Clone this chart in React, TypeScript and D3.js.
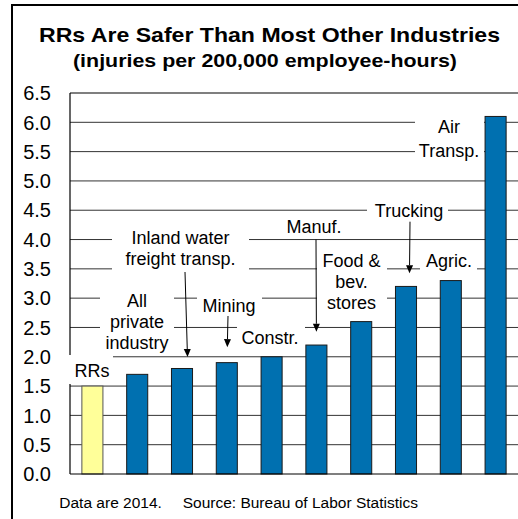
import React from "react";
import * as d3 from "d3";

// Injury rates by industry (injuries per 200,000 employee-hours), 2014
const categories = [
  "RRs",
  "All private industry",
  "Inland water freight transp.",
  "Mining",
  "Constr.",
  "Manuf.",
  "Food & bev. stores",
  "Trucking",
  "Agric.",
  "Air Transp.",
];
const injuryRates = [1.5, 1.7, 1.8, 1.9, 2.0, 2.2, 2.6, 3.2, 3.3, 6.1];
const yTicks = [0, 0.5, 1, 1.5, 2, 2.5, 3, 3.5, 4, 4.5, 5, 5.5, 6, 6.5];
const highlighted = "RRs";

const title = "RRs Are Safer Than Most Other Industries";
const subtitle = "(injuries per 200,000 employee-hours)";
const dataNote = "Data are 2014.";
const sourceNote = "Source: Bureau of Labor Statistics";

const W = 518;
const H = 519;
const plot = { left: 70, right: 518, top: 93, bottom: 474 };
const FONT = "'Liberation Sans', Arial, Helvetica, sans-serif";

// Callout labels: text lines, white knock-out box, optional pointer to a bar
type Callout = {
  category: string;
  lines: string[];
  cx: number;
  baselines: number[];
  box: [number, number, number, number]; // x0, x1, y0, y1
  arrow?: { x0: number; y0: number; dx: number; gap: number };
};

const callouts: Callout[] = [
  { category: "RRs", lines: ["RRs"], cx: 92, baselines: [377], box: [69, 113, 355, 384] },
  {
    category: "All private industry",
    lines: ["All", "private", "industry"],
    cx: 137,
    baselines: [307, 328, 349],
    box: [100, 174, 288, 354],
  },
  {
    category: "Inland water freight transp.",
    lines: ["Inland water", "freight transp."],
    cx: 180.5,
    baselines: [244, 265],
    box: [112, 249, 228, 274],
    arrow: { x0: 185, y0: 272, dx: 5.5, gap: 11.5 },
  },
  {
    category: "Mining",
    lines: ["Mining"],
    cx: 229,
    baselines: [312],
    box: [197, 262, 293, 318],
    arrow: { x0: 228, y0: 316, dx: 0.5, gap: 15.5 },
  },
  { category: "Constr.", lines: ["Constr."], cx: 270, baselines: [344], box: [237, 305, 322, 352] },
  {
    category: "Manuf.",
    lines: ["Manuf."],
    cx: 314,
    baselines: [233],
    box: [283, 345, 214, 237],
    arrow: { x0: 316, y0: 239.6, dx: 0, gap: 13.3 },
  },
  {
    category: "Food & bev. stores",
    lines: ["Food &", "bev.", "stores"],
    cx: 351.5,
    baselines: [267, 288, 309],
    box: [317, 387, 250, 315],
  },
  {
    category: "Trucking",
    lines: ["Trucking"],
    cx: 409,
    baselines: [217],
    box: [367, 448, 201, 221],
    arrow: { x0: 410, y0: 221.7, dx: 3.5, gap: 13.2 },
  },
  { category: "Agric.", lines: ["Agric."], cx: 449, baselines: [267], box: [420, 477, 253, 275] },
  {
    category: "Air Transp.",
    lines: ["Air", "Transp."],
    cx: 449,
    baselines: [133, 157],
    box: [415, 484, 115, 163],
  },
];

export default function App() {
  const x = d3
    .scaleBand<string>()
    .domain(categories)
    .range([plot.left, plot.right])
    .paddingInner(0.53)
    .paddingOuter(0.265);
  const y = d3.scaleLinear().domain([0, 6.5]).range([plot.bottom, plot.top]);

  const rows = categories.map((c, i) => ({ category: c, value: injuryRates[i] }));
  const valueOf = (c: string) => injuryRates[categories.indexOf(c)];
  const centerOf = (c: string) => (x(c) ?? 0) + x.bandwidth() / 2;

  return (
    <svg
      width={W}
      height={H}
      viewBox={`0 0 ${W} ${H}`}
      style={{ position: "absolute", left: 0, top: 0, background: "#fff" }}
      fontFamily={FONT}
    >
      <rect x={0} y={0} width={W} height={H} fill="#fff" />
      {/* outer frame */}
      <rect x={12} y={5} width={W + 40} height={H + 40} fill="none" stroke="#000" strokeWidth={2} />

      {/* titles */}
      <text
        x={269.5}
        y={41.7}
        textAnchor="middle"
        fontSize={20.5}
        fontWeight="bold"
        textLength={461}
        lengthAdjust="spacingAndGlyphs"
        fill="#000"
      >
        {title}
      </text>
      <text
        x={265}
        y={67}
        textAnchor="middle"
        fontSize={19}
        fontWeight="bold"
        textLength={384}
        lengthAdjust="spacingAndGlyphs"
        fill="#000"
      >
        {subtitle}
      </text>

      {/* horizontal gridlines */}
      {yTicks
        .filter((t) => t > 0 && t < 6.5)
        .map((t) => (
          <line
            key={`g${t}`}
            x1={plot.left}
            x2={plot.right}
            y1={y(t)}
            y2={y(t)}
            stroke="#333"
            strokeWidth={1}
          />
        ))}
      {/* plot frame: top, left, baseline */}
      <line x1={plot.left} x2={plot.right} y1={y(6.5)} y2={y(6.5)} stroke="#000" strokeWidth={1.2} />
      <line x1={plot.left} x2={plot.left} y1={y(6.5)} y2={y(0)} stroke="#000" strokeWidth={1.2} />

      {/* knock-out boxes behind callout text */}
      {callouts.map((c) => (
        <rect
          key={`b${c.category}`}
          x={c.box[0]}
          y={c.box[2]}
          width={c.box[1] - c.box[0]}
          height={c.box[3] - c.box[2]}
          fill="#fff"
        />
      ))}

      {/* bars */}
      {rows.map((d) => (
        <rect
          key={d.category}
          x={x(d.category)}
          y={y(d.value)}
          width={x.bandwidth()}
          height={y(0) - y(d.value)}
          fill={d.category === highlighted ? "#FFFF99" : "#0070B0"}
          stroke={d.category === highlighted ? "#555" : "#1a1a1a"}
          strokeWidth={1}
        />
      ))}
      <line x1={plot.left} x2={plot.right} y1={y(0)} y2={y(0)} stroke="#000" strokeWidth={1.2} />

      {/* y tick labels */}
      {yTicks.map((t) => (
        <text
          key={`t${t}`}
          x={51}
          y={y(t)}
          dy="0.36em"
          textAnchor="end"
          fontSize={20}
          fill="#000"
        >
          {d3.format(".1f")(t)}
        </text>
      ))}

      {/* callout text and pointers */}
      {callouts.map((c) => (
        <g key={`c${c.category}`}>
          {c.lines.map((line, i) => (
            <text
              key={i}
              x={c.cx}
              y={c.baselines[i]}
              textAnchor="middle"
              fontSize={18}
              fill="#000"
              style={{ whiteSpace: "pre" }}
            >
              {line}
            </text>
          ))}
          {c.arrow &&
            (() => {
              const tipX = centerOf(c.category) + c.arrow.dx;
              const tipY = y(valueOf(c.category)) - c.arrow.gap;
              const ang = Math.atan2(tipY - c.arrow.y0, tipX - c.arrow.x0);
              const len = 8;
              const half = 3.5;
              const bx = tipX - len * Math.cos(ang);
              const by = tipY - len * Math.sin(ang);
              const px = -Math.sin(ang) * half;
              const py = Math.cos(ang) * half;
              return (
                <g>
                  <line x1={c.arrow.x0} y1={c.arrow.y0} x2={bx} y2={by} stroke="#000" strokeWidth={1} />
                  <path
                    d={`M${tipX},${tipY}L${bx + px},${by + py}L${bx - px},${by - py}Z`}
                    fill="#000"
                  />
                </g>
              );
            })()}
        </g>
      ))}

      {/* footnote */}
      <text x={59.3} y={508.3} fontSize={15.5} fill="#000">
        {dataNote}
      </text>
      <text x={182.7} y={508.3} fontSize={15.5} fill="#000">
        {sourceNote}
      </text>
    </svg>
  );
}
